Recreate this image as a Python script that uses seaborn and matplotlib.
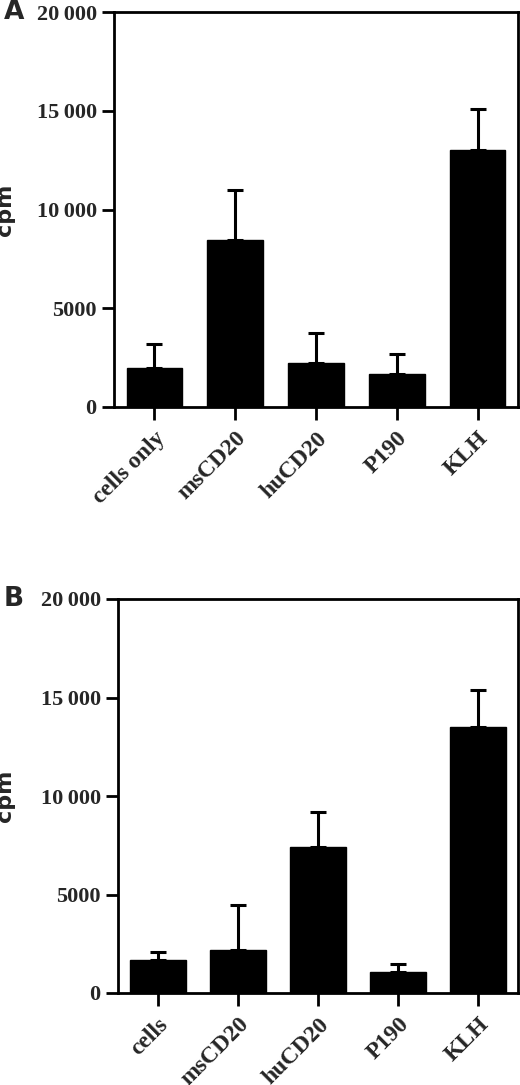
import matplotlib
matplotlib.use("Agg")
import matplotlib.pyplot as plt
import seaborn as sns
import pandas as pd
import numpy as np

cats_a = ["cells only", "msCD20", "huCD20", "P190", "KLH"]
vals_a = [1950, 8450, 2250, 1650, 13000]
errtop_a = [3200, 11000, 3770, 2700, 15100]

cats_b = ["cells", "msCD20", "huCD20", "P190", "KLH"]
vals_b = [1650, 2200, 7400, 1080, 13500]
errtop_b = [2100, 4450, 9200, 1470, 15400]

yticks = [0, 5000, 10000, 15000, 20000]
ytick_labels = ["0", "5000", "10\u2009000", "15\u2009000", "20\u2009000"]

sns.set_style("white")
plt.rcParams['font.family'] = ['Liberation Serif', 'DejaVu Serif']
plt.rcParams['font.weight'] = 'bold'

fig = plt.figure(figsize=(5.2, 10.85), dpi=100)
W, H = 520, 1085
axA = fig.add_axes([114/W, 1-407/H, (518-114)/W, (407-12)/H])
axB = fig.add_axes([118/W, 1-993/H, (518-118)/W, (993-599)/H])

def panel(ax, cats, vals, tops, letter, left):
    df = pd.DataFrame({"cat": cats, "val": vals})
    sns.barplot(data=df, x="cat", y="val", ax=ax, color="black", width=0.69,
                saturation=1, errorbar=None, edgecolor="black")
    up = np.array(tops) - np.array(vals)
    ax.errorbar(np.arange(len(cats)), vals, yerr=[np.zeros(len(cats)), up],
                fmt="none", ecolor="black", elinewidth=2.2, capsize=6, capthick=2.2, zorder=1)
    ax.set_xlim(-0.5, len(cats)-0.5)
    ax.set_ylim(0, 20000)
    ax.set_yticks(yticks)
    ax.set_yticklabels(ytick_labels, fontsize=16, fontweight="bold")
    ax.set_xticks(range(len(cats)))
    ax.set_xticklabels(cats, rotation=45, ha="right", rotation_mode="anchor",
                       fontsize=17, fontweight="bold")
    ax.set_xlabel("")
    ax.set_ylabel("cpm", fontsize=16, fontweight="bold", family=["DejaVu Sans"])
    ax.yaxis.set_label_coords((15-left)/(518-left), 0.5)
    for s in ax.spines.values():
        s.set_visible(True)
        s.set_linewidth(2)
        s.set_color("black")
    ax.tick_params(axis="both", direction="out", length=9, width=2, color="black", left=True, bottom=True)
    ax.tick_params(axis="x", pad=6)
    ax.text((4-left)/(518-left), 1.0, letter, transform=ax.transAxes, fontsize=19, fontweight="bold",
            family=["DejaVu Sans"], va="center", ha="left")

panel(axA, cats_a, vals_a, errtop_a, "A", 114)
panel(axB, cats_b, vals_b, errtop_b, "B", 118)
fig.savefig("out.png", dpi=100)
